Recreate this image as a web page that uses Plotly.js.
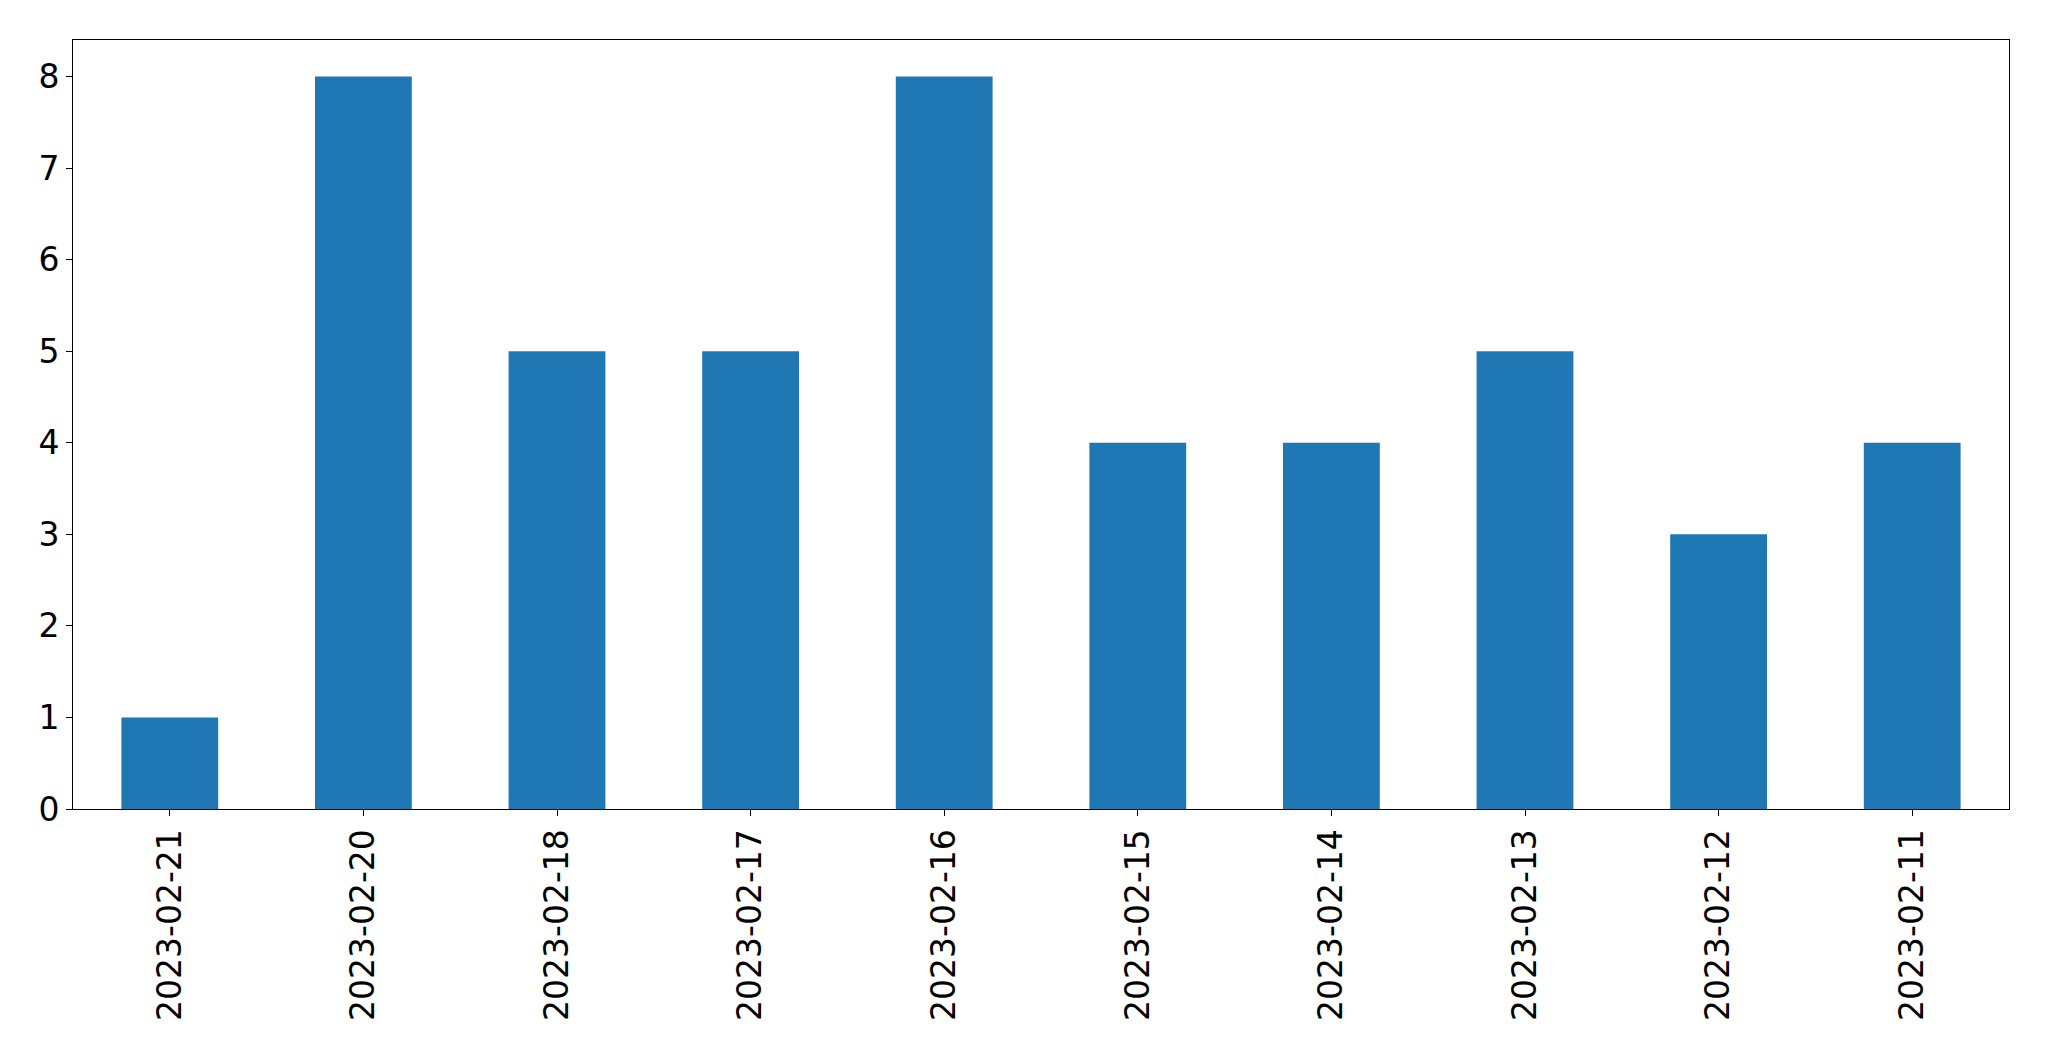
<!DOCTYPE html>
<html>
<head>
<meta charset="utf-8">
<script src="https://cdn.plot.ly/plotly-3.0.1.min.js"></script>
<style>html,body{margin:0;padding:0;background:#fff;}#chart{width:2049px;height:1061px;}</style>
</head>
<body>
<div id="chart"></div>
<script>
const dates = ["2023-02-21","2023-02-20","2023-02-18","2023-02-17","2023-02-16","2023-02-15","2023-02-14","2023-02-13","2023-02-12","2023-02-11"];
const counts = [1, 8, 5, 5, 8, 4, 4, 5, 3, 4];
const yTicks = [0,1,2,3,4,5,6,7,8];

const trace = {
  type: 'bar',
  x: dates,
  y: counts,
  marker: {color: '#1f77b4', line: {width: 0}},
  hoverinfo: 'x+y'
};
const fontFam = 'DejaVu Sans, sans-serif';
const layout = {
  width: 2049, height: 1061,
  margin: {l: 72.5, r: 40, t: 39.5, b: 251.5, pad: 0},
  paper_bgcolor: '#fff', plot_bgcolor: '#fff',
  bargap: 0.5,
  showlegend: false,
  xaxis: {
    type: 'category',
    range: [-0.5, 9.5],
    tickangle: -90,
    ticks: 'outside', ticklen: 6, tickwidth: 1, tickcolor: '#000',
    showline: true, linecolor: '#000', linewidth: 1, mirror: true,
    showgrid: false, zeroline: false,
    tickfont: {family: fontFam, size: 33, color: '#000'}
  },
  yaxis: {
    range: [0, 8.4],
    tickvals: yTicks,
    ticktext: yTicks.map(String),
    ticks: 'outside', ticklen: 6, tickwidth: 1, tickcolor: '#000',
    showline: true, linecolor: '#000', linewidth: 1, mirror: true,
    showgrid: false, zeroline: false,
    tickfont: {family: fontFam, size: 33, color: '#000'}
  }
};
Plotly.newPlot('chart', [trace], layout, {displayModeBar: false, staticPlot: true});
</script>
</body>
</html>
